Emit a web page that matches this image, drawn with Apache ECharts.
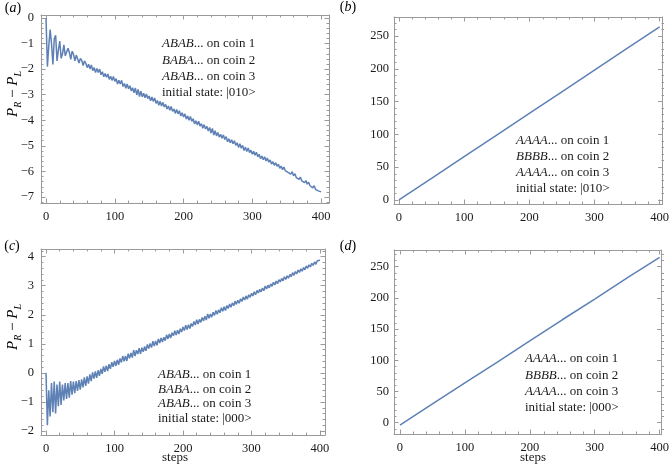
<!DOCTYPE html>
<html><head><meta charset="utf-8">
<script src="https://cdn.jsdelivr.net/npm/echarts@6/dist/echarts.min.js"></script>
<style>html,body{margin:0;padding:0;background:#fff}#c{width:672px;height:471px}</style>
</head><body><div id="c"></div>
<script>
// ---------- data ----------
const xTicks = [0, 100, 200, 300, 400];
const yTicksA = [0, -1, -2, -3, -4, -5, -6, -7];
const yTicksB = [0, 50, 100, 150, 200, 250];
const yTicksC = [-2, -1, 0, 1, 2, 3, 4];
const yTicksD = [0, 50, 100, 150, 200, 250];

// steps 0,2,4,...,400 for the two oscillating panels
const stepsNoisy = Array.from({length: 201}, (_, i) => 2 * i);

const valuesA = [
 0, -1.90, -1.10, -0.45, -1.00, -1.82, -0.80, -0.68, -1.68, -1.25, -0.90, -1.58, -1.40, -1.05, -1.48, -1.55,
 -1.18, -1.35, -1.62, -1.30, -1.42, -1.68, -1.45, -1.52, -1.76, -1.58, -1.66, -1.86, -1.68, -1.78, -1.94,
 -1.81, -1.99, -1.84, -2.06, -1.94, -2.13, -1.97, -2.13, -2.00, -2.22,
 -2.10, -2.30, -2.17, -2.32, -2.19, -2.40, -2.28, -2.44, -2.29, -2.48,
 -2.37, -2.58, -2.43, -2.58, -2.44, -2.68, -2.56, -2.75, -2.58, -2.77,
 -2.65, -2.85, -2.73, -2.93, -2.74, -3.01, -2.79, -3.07, -2.86, -3.08,
 -2.94, -3.12, -2.97, -3.15, -3.05, -3.24, -3.09, -3.26, -3.13, -3.34,
 -3.23, -3.41, -3.26, -3.44, -3.30, -3.48, -3.38, -3.56, -3.44, -3.61,
 -3.46, -3.65, -3.56, -3.73, -3.58, -3.75, -3.63, -3.83, -3.71, -3.87,
 -3.75, -3.95, -3.83, -4.00, -3.85, -4.04, -3.94, -4.14, -4.02, -4.18,
 -4.04, -4.23, -4.13, -4.31, -4.17, -4.34, -4.24, -4.42, -4.28, -4.50,
 -4.32, -4.58, -4.41, -4.61, -4.48, -4.66, -4.55, -4.70, -4.57, -4.75,
 -4.64, -4.84, -4.72, -4.88, -4.76, -4.92, -4.80, -4.98, -4.88, -5.06,
 -4.92, -5.09, -4.98, -5.18, -5.05, -5.22, -5.08, -5.26, -5.17, -5.33,
 -5.21, -5.37, -5.25, -5.43, -5.33, -5.50, -5.40, -5.54, -5.43, -5.59,
 -5.48, -5.64, -5.55, -5.71, -5.62, -5.76, -5.66, -5.80, -5.72, -5.88,
 -5.79, -5.93, -5.83, -5.97, -5.90, -6.04, -5.97, -6.11, -6.01, -6.17,
 -6.09, -6.24, -6.17, -6.31, -6.22, -6.37, -6.30, -6.44, -6.36, -6.50,
 -6.42, -6.56, -6.50, -6.64, -6.56, -6.70, -6.63, -6.76, -6.71, -6.80
];

const valuesC = [
 0, -1.80, -0.60, -1.50, -0.35, -1.35, -0.30, -1.40, -0.40, -1.15, -0.30, -1.10, -0.40, -0.95, -0.35, -0.90,
 -0.35, -0.85, -0.28, -0.75, -0.30, -0.70, -0.28, -0.62, -0.25, -0.58, -0.22, -0.50, -0.15, -0.45, -0.12,
 -0.37, -0.05, -0.28, 0.02, -0.20, 0.05, -0.17, 0.09, -0.10, 0.14,
 -0.03, 0.22, 0.04, 0.25, 0.06, 0.30, 0.14, 0.37, 0.21, 0.41,
 0.24, 0.45, 0.28, 0.50, 0.36, 0.58, 0.40, 0.58, 0.41, 0.66,
 0.50, 0.69, 0.53, 0.78, 0.58, 0.78, 0.65, 0.85, 0.66, 0.87,
 0.73, 0.91, 0.76, 0.98, 0.84, 1.01, 0.87, 1.09, 0.92, 1.10,
 0.95, 1.17, 1.03, 1.20, 1.06, 1.23, 1.11, 1.31, 1.17, 1.34,
 1.20, 1.38, 1.28, 1.45, 1.30, 1.47, 1.34, 1.52, 1.41, 1.58,
 1.46, 1.64, 1.49, 1.66, 1.53, 1.70, 1.60, 1.77, 1.65, 1.83,
 1.68, 1.84, 1.74, 1.91, 1.79, 1.95, 1.82, 2.03, 1.88, 2.03,
 1.92, 2.09, 1.98, 2.15, 2.02, 2.17, 2.07, 2.24, 2.12, 2.28,
 2.15, 2.32, 2.22, 2.37, 2.26, 2.41, 2.31, 2.47, 2.36, 2.50,
 2.40, 2.55, 2.46, 2.61, 2.51, 2.65, 2.54, 2.69, 2.60, 2.74,
 2.65, 2.79, 2.69, 2.84, 2.75, 2.88, 2.79, 2.92, 2.83, 2.99,
 2.89, 3.02, 2.93, 3.06, 2.98, 3.12, 3.03, 3.16, 3.07, 3.21,
 3.13, 3.25, 3.17, 3.31, 3.22, 3.34, 3.26, 3.39, 3.31, 3.45,
 3.36, 3.49, 3.41, 3.54, 3.46, 3.58, 3.50, 3.63, 3.55, 3.68,
 3.60, 3.72, 3.65, 3.77, 3.70, 3.82, 3.74, 3.86, 3.80, 3.88
];

const stepsLine = [0, 50, 100, 150, 200, 250, 300, 350, 400];
const valuesB = [0, 33, 66, 99, 132, 165, 198, 231, 264];
const valuesD = [-4, 30, 64, 97, 131, 165, 198, 232, 265];

const textA = ['ABAB', 'BABA', 'ABAB', '010'];
const textB = ['AAAA', 'BBBB', 'AAAA', '010'];
const textC = ['ABAB', 'BABA', 'ABAB', '000'];
const textD = ['AAAA', 'BBBB', 'AAAA', '000'];

// ---------- styling ----------
const LINE = '#5E81B5';
const FRAME = '#9a9a9a';
const FONT = 'Liberation Serif';
const TXT = '#1a1a1a';

const panels = [
  {rect: {left: 41, top: 15, width: 288, height: 188}, x: [-7.3, 411.6], y: [-7.235, 0.117], yMajor: yTicksA, yMinor: 0.2, xs: stepsNoisy, ys: valuesA, lm: 7},
  {rect: {left: 394, top: 17, width: 270, height: 187}, x: [-7.6, 404.6], y: [-6.1, 279], yMajor: yTicksB, yMinor: 10, xs: stepsLine, ys: valuesB, lm: 5},
  {rect: {left: 41, top: 249, width: 284, height: 186}, x: [-7.3, 407.3], y: [-2.138, 4.265], yMajor: yTicksC, yMinor: 0.2, xs: stepsNoisy, ys: valuesC, lm: 7},
  {rect: {left: 394, top: 250, width: 270, height: 184}, x: [-9.2, 403], y: [-18.1, 276.8], yMajor: yTicksD, yMinor: 10, xs: stepsLine, ys: valuesD, lm: 5}
];

function minorVals(lo, hi, step, majors) {
  const out = [];
  const n0 = Math.ceil(lo / step - 1e-9), n1 = Math.floor(hi / step + 1e-9);
  for (let k = n0; k <= n1; k++) {
    const v = +(k * step).toFixed(6);
    if (!majors.some(m => Math.abs(m - v) < 1e-6)) out.push(v);
  }
  return out;
}
const fmt = v => String(v).replace('-', '\u2212');

const grid = [], xAxis = [], yAxis = [], series = [];
panels.forEach((p, i) => {
  grid.push(Object.assign({}, p.rect));
  grid.push(Object.assign({}, p.rect));
  const gMaj = 2 * i, gMin = 2 * i + 1;
  const xMinor = minorVals(p.x[0], p.x[1], 20, xTicks);
  const yMinor = minorVals(p.y[0], p.y[1], p.yMinor, p.yMajor);
  const lbl = (show, vals, margin) => ({show, customValues: vals, margin, fontFamily: FONT, fontSize: 12.5, color: TXT, formatter: fmt});
  const mk = (g, pos, min, max, ticks, len, line, label) => ({
    type: 'value', gridIndex: g, position: pos, min, max,
    splitLine: {show: false},
    axisLine: {show: line, onZero: false, lineStyle: {color: FRAME, width: 1}},
    axisTick: {show: true, inside: true, length: len, customValues: ticks, lineStyle: {color: FRAME, width: 1}},
    axisLabel: label || {show: false}
  });
  xAxis.push(mk(gMaj, 'bottom', p.x[0], p.x[1], xTicks, 4.5, true, lbl(true, xTicks, 7)));
  xAxis.push(mk(gMaj, 'top', p.x[0], p.x[1], xTicks, 4.5, true, null));
  xAxis.push(mk(gMin, 'bottom', p.x[0], p.x[1], xMinor, 2.5, false, null));
  xAxis.push(mk(gMin, 'top', p.x[0], p.x[1], xMinor, 2.5, false, null));
  yAxis.push(mk(gMaj, 'left', p.y[0], p.y[1], p.yMajor, 4.5, true, lbl(true, p.yMajor, p.lm)));
  yAxis.push(mk(gMaj, 'right', p.y[0], p.y[1], p.yMajor, 4.5, true, null));
  yAxis.push(mk(gMin, 'left', p.y[0], p.y[1], yMinor, 2.5, false, null));
  yAxis.push(mk(gMin, 'right', p.y[0], p.y[1], yMinor, 2.5, false, null));
  series.push({
    type: 'line', xAxisIndex: 4 * i, yAxisIndex: 4 * i,
    data: p.xs.map((s, k) => [s, p.ys[k]]),
    showSymbol: false, symbol: 'none', animation: false,
    lineStyle: {color: LINE, width: 1.5}, clip: true
  });
});

const rich = {
  i: {fontFamily: FONT, fontStyle: 'italic', fontSize: 13, color: TXT},
  r: {fontFamily: FONT, fontSize: 13, color: TXT}
};
function annot(x, y0, dy, t) {
  const lines = [
    '{i|' + t[0] + '}{r|... on coin 1}',
    '{i|' + t[1] + '}{r|... on coin 2}',
    '{i|' + t[2] + '}{r|... on coin 3}',
    '{r|initial state: |' + t[3] + '>}'
  ];
  return lines.map((s, k) => ({
    type: 'text', x: x, y: y0 + k * dy, silent: true, z: 10,
    style: {text: s, rich: rich, align: 'left', verticalAlign: 'middle', fill: TXT}
  }));
}
const panelRich = {
  r: {fontFamily: FONT, fontSize: 14, color: TXT},
  i: {fontFamily: FONT, fontSize: 14, fontStyle: 'italic', color: TXT}
};
function plabel(x, y, ch) {
  return {type: 'text', x, y, silent: true, z: 10,
    style: {text: '{r|(}{i|' + ch + '}{r|)}', rich: panelRich, align: 'center', verticalAlign: 'middle'}};
}
const titleRich = {
  p: {fontFamily: FONT, fontStyle: 'italic', fontSize: 15, color: TXT, lineHeight: 20},
  s: {fontFamily: FONT, fontStyle: 'italic', fontSize: 10, color: TXT, lineHeight: 11, verticalAlign: 'bottom'},
  m: {fontFamily: FONT, fontSize: 15, color: TXT, lineHeight: 20}
};
function ytitle(x, y) {
  return {type: 'text', x, y, rotation: Math.PI / 2, silent: true, z: 10,
    style: {text: '{p|P}{s|R}{m| \u2212 }{p|P}{s|L}', rich: titleRich, align: 'center', verticalAlign: 'middle'}};
}
function xtitle(x, y) {
  return {type: 'text', x, y, silent: true, z: 10,
    style: {text: 'steps', font: '13px "' + FONT + '"', fill: TXT, align: 'center', verticalAlign: 'middle'}};
}

const graphic = [].concat(
  annot(162, 44, 16.3, textA),
  annot(516, 141, 15.8, textB),
  annot(158, 375, 14.5, textC),
  annot(525, 359, 16.3, textD),
  [plabel(13, 8, 'a'), plabel(348, 7, 'b'), plabel(12, 246, 'c'), plabel(348, 246, 'd'),
   ytitle(13, 94), ytitle(13, 327), xtitle(175, 458), xtitle(533, 458)]
);

const chart = echarts.init(document.getElementById('c'), null, {renderer: 'canvas'});
chart.setOption({animation: false, backgroundColor: '#fff', grid, xAxis, yAxis, series, graphic});
</script>
</body></html>
